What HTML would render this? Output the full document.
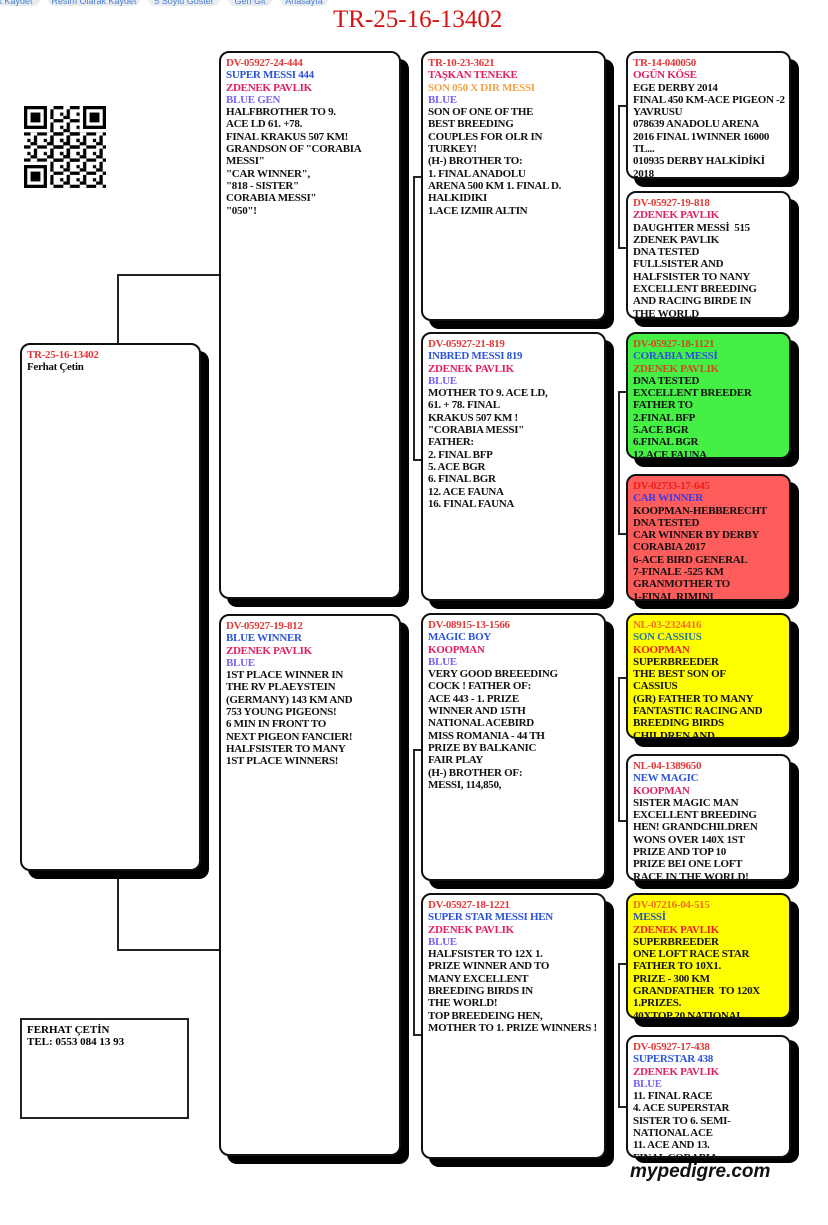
<!DOCTYPE html>
<html><head><meta charset="utf-8"><style>
*{margin:0;padding:0;box-sizing:border-box}
body{width:828px;height:1225px;background:#fff;position:relative;overflow:hidden;font-family:"Liberation Serif",serif}
.pill{position:absolute;top:-8px;height:14px;background:#e9ecef;border-radius:7px;color:#4a7fd4;font:9px "Liberation Sans",sans-serif;line-height:18px;text-align:center;overflow:hidden;white-space:nowrap}
.t{position:absolute;left:333px;top:6px;font-size:25px;color:#d41414;line-height:28px}
.b{position:absolute;border:2px solid #111;border-radius:10px;background:#fff;box-shadow:8px 8px 0 #000;overflow:hidden;padding:4px 0 0 5px;font-weight:bold;font-size:11px;line-height:12.3px;letter-spacing:-0.3px;white-space:nowrap;color:#111}
.r{color:#e23a3a}.bl{color:#2b54d8}.p{color:#e0215f}.v{color:#7b62f0}.o{color:#f2a347}
.l{position:absolute;background:#222}
.own{position:absolute;left:20px;top:1018px;width:169px;height:101px;border:2px solid #222;padding:4px 5px;font-weight:bold;font-size:11px;line-height:12.3px}
.logo{position:absolute;left:630px;top:1163px;font:italic bold 19px "Liberation Sans",sans-serif;line-height:18px;color:#111;z-index:5}
</style></head><body>
<div class="pill" style="left:-10px;width:50px">k Kaydet</div>
<div class="pill" style="left:48px;width:92px">Resim Olarak Kaydet</div>
<div class="pill" style="left:148px;width:72px">5 Soylu Göster</div>
<div class="pill" style="left:228px;width:44px">Geri Git</div>
<div class="pill" style="left:280px;width:48px">Anasayfa</div>
<div class="t">TR-25-16-13402</div>

<svg style="position:absolute;left:24px;top:106px" width="82" height="82" viewBox="0 0 25 25">
<defs><pattern id="q" width="5" height="4" patternUnits="userSpaceOnUse"><rect x="0" y="0" width="2" height="1"/><rect x="3" y="1" width="1" height="2"/><rect x="1" y="2" width="1" height="1"/><rect x="2" y="3" width="2" height="1"/><rect x="4" y="0" width="1" height="1"/></pattern></defs>
<rect x="8" y="0" width="9" height="25" fill="url(#q)"/><rect x="0" y="8" width="25" height="9" fill="url(#q)"/><rect x="17" y="17" width="8" height="8" fill="url(#q)"/>
<g fill="none" stroke="#000"><rect x="0.5" y="0.5" width="6" height="6"/><rect x="18.5" y="0.5" width="6" height="6"/><rect x="0.5" y="18.5" width="6" height="6"/></g>
<rect x="2" y="2" width="3" height="3"/><rect x="20" y="2" width="3" height="3"/><rect x="2" y="20" width="3" height="3"/>
</svg>

<div class="l" style="left:117px;top:274px;width:2px;height:70px"></div>
<div class="l" style="left:117px;top:870px;width:2px;height:81px"></div>
<div class="l" style="left:117px;top:274px;width:102px;height:2px"></div>
<div class="l" style="left:117px;top:949px;width:102px;height:2px"></div>
<div class="l" style="left:413px;top:176px;width:2px;height:285px"></div>
<div class="l" style="left:413px;top:176px;width:8px;height:2px"></div>
<div class="l" style="left:413px;top:459px;width:8px;height:2px"></div>
<div class="l" style="left:413px;top:749px;width:2px;height:287px"></div>
<div class="l" style="left:413px;top:749px;width:8px;height:2px"></div>
<div class="l" style="left:413px;top:1034px;width:8px;height:2px"></div>
<div class="l" style="left:618px;top:105px;width:2px;height:144px"></div>
<div class="l" style="left:618px;top:105px;width:8px;height:2px"></div>
<div class="l" style="left:618px;top:247px;width:8px;height:2px"></div>
<div class="l" style="left:618px;top:391px;width:2px;height:144px"></div>
<div class="l" style="left:618px;top:391px;width:8px;height:2px"></div>
<div class="l" style="left:618px;top:533px;width:8px;height:2px"></div>
<div class="l" style="left:618px;top:677px;width:2px;height:145px"></div>
<div class="l" style="left:618px;top:677px;width:8px;height:2px"></div>
<div class="l" style="left:618px;top:820px;width:8px;height:2px"></div>
<div class="l" style="left:618px;top:963px;width:2px;height:145px"></div>
<div class="l" style="left:618px;top:963px;width:8px;height:2px"></div>
<div class="l" style="left:618px;top:1106px;width:8px;height:2px"></div>

<div class="b" style="left:20px;top:343px;width:181px;height:528px"><span class="r">TR-25-16-13402</span><br>Ferhat Çetin</div>

<div class="b" style="left:219px;top:51px;width:182px;height:548px"><span class="r">DV-05927-24-444</span><br><span class="bl">SUPER MESSI 444</span><br><span class="p">ZDENEK PAVLIK</span><br><span class="v">BLUE GEN</span><br>HALFBROTHER TO 9.<br>ACE LD 61. +78.<br>FINAL KRAKUS 507 KM!<br>GRANDSON OF "CORABIA<br>MESSI"<br>"CAR WINNER",<br>"818 - SISTER"<br>CORABIA MESSI"<br>"050"!</div>
<div class="b" style="left:219px;top:614px;width:182px;height:542px"><span class="r">DV-05927-19-812</span><br><span class="bl">BLUE WINNER</span><br><span class="p">ZDENEK PAVLIK</span><br><span class="v">BLUE</span><br>1ST PLACE WINNER IN<br>THE RV PLAEYSTEIN<br>(GERMANY) 143 KM AND<br>753 YOUNG PIGEONS!<br>6 MIN IN FRONT TO<br>NEXT PIGEON FANCIER!<br>HALFSISTER TO MANY<br>1ST PLACE WINNERS!</div>

<div class="b" style="left:421px;top:51px;width:185px;height:270px"><span class="r">TR-10-23-3621</span><br><span class="p">TAŞKAN TENEKE</span><br><span class="o">SON 050 X DIR MESSI</span><br><span class="v">BLUE</span><br>SON OF ONE OF THE<br>BEST BREEDING<br>COUPLES FOR OLR IN<br>TURKEY!<br>(H-) BROTHER TO:<br>1. FINAL ANADOLU<br>ARENA 500 KM 1. FINAL D.<br>HALKIDIKI<br>1.ACE IZMIR ALTIN</div>
<div class="b" style="left:421px;top:332px;width:185px;height:269px"><span class="r">DV-05927-21-819</span><br><span class="bl">INBRED MESSI 819</span><br><span class="p">ZDENEK PAVLIK</span><br><span class="v">BLUE</span><br>MOTHER TO 9. ACE LD,<br>61. + 78. FINAL<br>KRAKUS 507 KM !<br>"CORABIA MESSI"<br>FATHER:<br>2. FINAL BFP<br>5. ACE BGR<br>6. FINAL BGR<br>12. ACE FAUNA<br>16. FINAL FAUNA</div>
<div class="b" style="left:421px;top:613px;width:185px;height:268px"><span class="r">DV-08915-13-1566</span><br><span class="bl">MAGIC BOY</span><br><span class="p">KOOPMAN</span><br><span class="v">BLUE</span><br>VERY GOOD BREEEDING<br>COCK ! FATHER OF:<br>ACE 443 - 1. PRIZE<br>WINNER AND 15TH<br>NATIONAL ACEBIRD<br>MISS ROMANIA - 44 TH<br>PRIZE BY BALKANIC<br>FAIR PLAY<br>(H-) BROTHER OF:<br>MESSI, 114,850,</div>
<div class="b" style="left:421px;top:893px;width:185px;height:266px"><span class="r">DV-05927-18-1221</span><br><span class="bl">SUPER STAR MESSI HEN</span><br><span class="p">ZDENEK PAVLIK</span><br><span class="v">BLUE</span><br>HALFSISTER TO 12X 1.<br>PRIZE WINNER AND TO<br>MANY EXCELLENT<br>BREEDING BIRDS IN<br>THE WORLD!<br>TOP BREEDEING HEN,<br>MOTHER TO 1. PRIZE WINNERS !</div>

<div class="b" style="left:626px;top:51px;width:165px;height:128px"><span class="r">TR-14-040050</span><br><span class="p">OGÜN KÖSE</span><br>EGE DERBY 2014<br>FINAL 450 KM-ACE PIGEON -2<br>YAVRUSU<br>078639 ANADOLU ARENA<br>2016 FINAL 1WINNER 16000<br>TL...<br>010935 DERBY HALKİDİKİ<br>2018</div>
<div class="b" style="left:626px;top:191px;width:165px;height:128px"><span class="r">DV-05927-19-818</span><br><span class="p">ZDENEK PAVLIK</span><br>DAUGHTER MESSİ &nbsp;515<br>ZDENEK PAVLIK<br>DNA TESTED<br>FULLSISTER AND<br>HALFSISTER TO NANY<br>EXCELLENT BREEDING<br>AND RACING BIRDE IN<br>THE WORLD</div>
<div class="b" style="left:626px;top:332px;width:165px;height:127px;background:#45f045"><span style="color:#d04a20">DV-05927-18-1121</span><br><span class="bl">CORABIA MESSİ</span><br><span style="color:#d04a20">ZDENEK PAVLIK</span><br>DNA TESTED<br>EXCELLENT BREEDER<br>FATHER TO<br>2.FINAL BFP<br>5.ACE BGR<br>6.FINAL BGR<br>12.ACE FAUNA</div>
<div class="b" style="left:626px;top:474px;width:165px;height:127px;background:#ff5c5c"><span style="color:#e8201a">DV-02733-17-645</span><br><span style="color:#3a3ae8">CAR WINNER</span><br>KOOPMAN-HEBBERECHT<br>DNA TESTED<br>CAR WINNER BY DERBY<br>CORABIA 2017<br>6-ACE BIRD GENERAL<br>7-FINALE -525 KM<br>GRANMOTHER TO<br>1-FINAL RIMINI</div>
<div class="b" style="left:626px;top:613px;width:165px;height:126px;background:#ffff00"><span style="color:#f07020">NL-03-2324416</span><br><span style="color:#2a7a9a">SON CASSIUS</span><br><span style="color:#f02020">KOOPMAN</span><br>SUPERBREEDER<br>THE BEST SON OF<br>CASSIUS<br>(GR) FATHER TO MANY<br>FANTASTIC RACING AND<br>BREEDING BIRDS<br>CHILDREN AND</div>
<div class="b" style="left:626px;top:754px;width:165px;height:127px"><span class="r">NL-04-1389650</span><br><span class="bl">NEW MAGIC</span><br><span class="p">KOOPMAN</span><br>SISTER MAGIC MAN<br>EXCELLENT BREEDING<br>HEN! GRANDCHILDREN<br>WONS OVER 140X 1ST<br>PRIZE AND TOP 10<br>PRIZE BEI ONE LOFT<br>RACE IN THE WORLD!</div>
<div class="b" style="left:626px;top:893px;width:165px;height:126px;background:#ffff00"><span style="color:#f07020">DV-07216-04-515</span><br><span style="color:#2a5aaa">MESSİ</span><br><span style="color:#f02020">ZDENEK PAVLIK</span><br>SUPERBREEDER<br>ONE LOFT RACE STAR<br>FATHER TO 10X1.<br>PRIZE - 300 KM<br>GRANDFATHER &nbsp;TO 120X<br>1.PRIZES.<br>40XTOP 20 NATIONAL</div>
<div class="b" style="left:626px;top:1035px;width:165px;height:123px;box-shadow:8px 5px 0 #000"><span class="r">DV-05927-17-438</span><br><span class="bl">SUPERSTAR 438</span><br><span class="p">ZDENEK PAVLIK</span><br><span class="v">BLUE</span><br>11. FINAL RACE<br>4. ACE SUPERSTAR<br>SISTER TO 6. SEMI-<br>NATIONAL ACE<br>11. ACE AND 13.<br>FINAL CORABIA</div>

<div class="own">FERHAT ÇETİN<br>TEL: 0553 084 13 93</div>
<div class="logo">mypedigre.com</div>
</body></html>
